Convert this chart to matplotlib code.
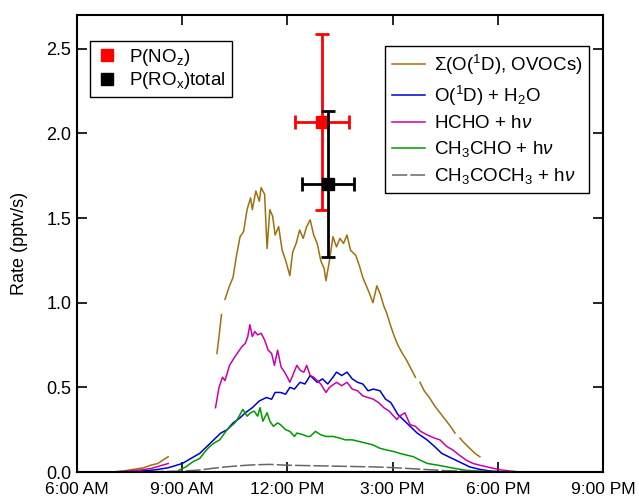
import numpy as np
import matplotlib
matplotlib.use("Agg")
import matplotlib.pyplot as plt
from matplotlib.lines import Line2D

plt.rcParams['font.family'] = ['Liberation Sans', 'DejaVu Sans']
plt.rcParams['mathtext.fontset'] = 'custom'
plt.rcParams['mathtext.rm'] = 'Liberation Sans'
plt.rcParams['mathtext.it'] = 'Liberation Sans:italic'
plt.rcParams['mathtext.bf'] = 'Liberation Sans:bold'

nan = np.nan

# ---- data (hours of day, rate in pptv/s) ----
sum_t = [7.0, 7.3, 7.6, 7.9, 8.1, 8.3, 8.45, 8.6, 8.7,
         9.99, 10.05, 10.12, 10.17,
         10.22, 10.35, 10.45, 10.55, 10.65, 10.75, 10.85, 10.95, 11.0, 11.1, 11.2, 11.25, 11.35,
         11.42, 11.5, 11.58, 11.65, 11.75, 11.85, 11.95, 12.07, 12.15, 12.25, 12.35, 12.45, 12.55,
         12.65, 12.75, 12.85, 12.95, 13.05, 13.1, 13.2, 13.3, 13.4, 13.5, 13.6, 13.7, 13.8, 13.95,
         14.05, 14.15, 14.25, 14.35, 14.44, 14.55, 14.65, 14.75, 14.83, 14.95, 15.05, 15.15, 15.28,
         15.4, 15.55, 15.65, 15.72,
         15.78, 15.9, 16.05, 16.2, 16.35, 16.5, 16.65, 16.78, 16.83,
         16.92, 17.05, 17.2, 17.35, 17.49]
sum_v = [0.0, 0.005, 0.015, 0.025, 0.04, 0.05, 0.07, 0.09, nan,
         0.70, 0.80, 0.93, nan,
         1.02, 1.10, 1.15, 1.28, 1.39, 1.42, 1.55, 1.62, 1.55, 1.66, 1.60, 1.68, 1.64,
         1.32, 1.55, 1.51, 1.40, 1.45, 1.31, 1.25, 1.16, 1.30, 1.35, 1.43, 1.38, 1.45,
         1.49, 1.40, 1.35, 1.25, 1.20, 1.13, 1.25, 1.39, 1.33, 1.38, 1.35, 1.40, 1.31, 1.28,
         1.22, 1.15, 1.10, 1.05, 1.00, 1.10, 1.05, 0.98, 0.94, 0.86, 0.80, 0.75, 0.70,
         0.66, 0.60, 0.56, nan,
         0.53, 0.48, 0.44, 0.39, 0.35, 0.31, 0.27, 0.23, nan,
         0.20, 0.17, 0.14, 0.11, 0.09]

o1d_t = [7.3, 7.8, 8.2, 8.6, 9.0, 9.25, 9.5, 9.75, 9.9, 10.1, 10.28, 10.45, 10.65, 10.8, 11.0,
         11.2, 11.4, 11.55, 11.65, 11.8, 11.95, 12.07, 12.2, 12.36, 12.5, 12.65, 12.85, 13.0,
         13.15, 13.3, 13.4, 13.55, 13.7, 13.85, 14.0, 14.15, 14.3, 14.45, 14.64, 14.8, 14.95,
         15.15, 15.3, 15.5, 15.7, 15.98, 16.2, 16.4, 16.7, 17.0, 17.2, 17.5, 17.78, 18.1, 18.3]
o1d_v = [0.0, 0.005, 0.012, 0.025, 0.05, 0.08, 0.11, 0.16, 0.19, 0.23, 0.25, 0.29, 0.32, 0.35, 0.38,
         0.42, 0.44, 0.43, 0.47, 0.47, 0.46, 0.50, 0.49, 0.53, 0.52, 0.57, 0.53, 0.55,
         0.52, 0.56, 0.59, 0.57, 0.59, 0.55, 0.53, 0.52, 0.48, 0.49, 0.48, 0.43, 0.41,
         0.34, 0.31, 0.27, 0.23, 0.19, 0.15, 0.11, 0.08, 0.05, 0.03, 0.015, 0.006, 0.002, 0.0]

hcho_t = [7.0, 7.4, 7.8, 8.1, 8.35, 8.6, 8.7,
          9.95, 10.05, 10.15, 10.22, 10.35, 10.5, 10.6, 10.7, 10.8, 10.87, 10.93, 11.0, 11.07,
          11.15, 11.25, 11.35, 11.45, 11.55, 11.63, 11.72, 11.82, 11.92, 12.0, 12.07, 12.17,
          12.27, 12.37, 12.47, 12.55, 12.65, 12.75, 12.85, 12.95, 13.1, 13.2, 13.4, 13.55, 13.7,
          13.85, 14.0, 14.15, 14.3, 14.45, 14.6, 14.75, 14.9, 15.12, 15.2, 15.35, 15.5, 15.65,
          15.8, 15.98, 16.2, 16.35, 16.55, 16.72, 16.9, 17.1, 17.3, 17.49, 17.8, 18.1, 18.4, 18.63]
hcho_v = [0.0, 0.005, 0.012, 0.02, 0.035, 0.05, nan,
          0.38, 0.50, 0.56, 0.54, 0.63, 0.68, 0.71, 0.74, 0.76, 0.80, 0.87, 0.80, 0.83,
          0.81, 0.82, 0.78, 0.72, 0.70, 0.63, 0.72, 0.62, 0.59, 0.56, 0.53, 0.58,
          0.63, 0.60, 0.59, 0.63, 0.57, 0.56, 0.54, 0.52, 0.47, 0.50, 0.53, 0.51, 0.53,
          0.49, 0.48, 0.45, 0.44, 0.43, 0.41, 0.38, 0.36, 0.31, 0.33, 0.35, 0.28, 0.27,
          0.24, 0.22, 0.20, 0.19, 0.15, 0.13, 0.10, 0.07, 0.05, 0.04, 0.025, 0.012, 0.005, 0.0]

ch3cho_t = [8.9, 9.1, 9.3, 9.5, 9.65, 9.78, 9.9, 10.07, 10.28, 10.5, 10.57, 10.73, 10.85, 10.95,
            11.05, 11.15, 11.22, 11.3, 11.42, 11.5, 11.6, 11.72, 11.8, 11.95, 12.07, 12.2, 12.27,
            12.45, 12.57, 12.65, 12.8, 12.95, 13.1, 13.3, 13.5, 13.65, 13.85, 14.05, 14.25, 14.44,
            14.64, 14.83, 15.05, 15.2, 15.4, 15.6, 15.78, 16.0, 16.3, 16.55, 16.8, 17.1, 17.5, 17.9]
ch3cho_v = [0.01, 0.03, 0.06, 0.08, 0.12, 0.15, 0.17, 0.19, 0.25, 0.29, 0.31, 0.37, 0.33, 0.35,
            0.36, 0.33, 0.38, 0.30, 0.35, 0.30, 0.27, 0.29, 0.28, 0.25, 0.24, 0.21, 0.23,
            0.22, 0.21, 0.21, 0.24, 0.22, 0.21, 0.21, 0.20, 0.19, 0.19, 0.18, 0.17, 0.16,
            0.14, 0.13, 0.12, 0.11, 0.10, 0.09, 0.07, 0.05, 0.04, 0.03, 0.02, 0.01, 0.005, 0.0]

acet_t = [7.0, 8.0, 9.0, 9.5, 10.0, 10.5, 11.0, 11.5, 12.0, 12.5, 13.0, 13.5, 14.0, 14.5, 15.0,
          15.5, 16.0, 16.5, 17.0, 17.5, 18.0, 18.8]
acet_v = [0.0, 0.002, 0.005, 0.012, 0.025, 0.035, 0.042, 0.045, 0.04, 0.038, 0.036, 0.034, 0.032,
          0.03, 0.026, 0.02, 0.014, 0.008, 0.005, 0.003, 0.001, 0.0]

pnoz_t, pnoz_v, pnoz_xerr, pnoz_yerr = 12.99, 2.07, 0.76, 0.52
prox_t, prox_v, prox_xerr, prox_yerr = 13.16, 1.70, 0.74, 0.43

xticks = [6, 9, 12, 15, 18, 21]
xticklabels = ['6:00 AM', '9:00 AM', '12:00 PM', '3:00 PM', '6:00 PM', '9:00 PM']
yticks = [0.0, 0.5, 1.0, 1.5, 2.0, 2.5]
yticklabels = ['0.0', '0.5', '1.0', '1.5', '2.0', '2.5']

fig = plt.figure(figsize=(6.39, 4.98), dpi=100)
ax = fig.add_axes([77/639, 26/498, 526/639, 457/498])

lw = 1.1
l1, = ax.plot(sum_t, sum_v, color='#A0700F', lw=lw, label='Σ(O($^1$D), OVOCs)')
l2, = ax.plot(o1d_t, o1d_v, color='#0000CC', lw=lw, label='O($^1$D) + H$_2$O')
l3, = ax.plot(hcho_t, hcho_v, color='#CC00AA', lw=lw, label='HCHO + h$\\nu$')
l4, = ax.plot(ch3cho_t, ch3cho_v, color='#009900', lw=lw, label='CH$_3$CHO + h$\\nu$')
l5, = ax.plot(acet_t, acet_v, color='#666666', lw=lw, dashes=(10, 2),
              label='CH$_3$COCH$_3$ + h$\\nu$')

ax.errorbar(pnoz_t, pnoz_v, xerr=pnoz_xerr, yerr=pnoz_yerr, fmt='s', color='#FF0000',
            ms=8, elinewidth=2, capsize=5, capthick=2, zorder=5)
ax.errorbar(prox_t, prox_v, xerr=prox_xerr, yerr=prox_yerr, fmt='s', color='black',
            ms=8, elinewidth=2, capsize=5, capthick=2, zorder=6)

ax.set_xlim(6, 21)
ax.set_ylim(0, 2.7)
ax.set_xticks(xticks)
ax.set_xticklabels(xticklabels)
ax.set_yticks(yticks)
ax.set_yticklabels(yticklabels)
ax.tick_params(direction='in', length=7, width=1.2, labelsize=13,
               top=True, right=True, labeltop=False, labelright=False)
ax.tick_params(axis='x', pad=7, labelsize=12.5)
ax.tick_params(axis='y', pad=4)
for s in ax.spines.values():
    s.set_linewidth(1.5)
ax.set_ylabel('Rate (pptv/s)', fontsize=13, labelpad=13)

h1 = Line2D([], [], marker='s', ls='none', color='#FF0000', ms=9)
h2 = Line2D([], [], marker='s', ls='none', color='black', ms=9)
leg1 = ax.legend([h1, h2], ['P(NO$_\\mathrm{z}$)', 'P(RO$_\\mathrm{x}$)total'], loc='upper left',
                 bbox_to_anchor=(13/526, (472-41)/457), borderaxespad=0, fontsize=13.5,
                 fancybox=False, framealpha=1, edgecolor='black', handlelength=1.2,
                 handletextpad=0.6, labelspacing=0.15, borderpad=0.3)
leg1.get_frame().set_linewidth(1.0)
ax.add_artist(leg1)
leg2 = ax.legend([l1, l2, l3, l4, l5], [l.get_label() for l in [l1, l2, l3, l4, l5]],
                 loc='upper right', bbox_to_anchor=(512/526, (472-46)/457), borderaxespad=0,
                 fontsize=13.5, fancybox=False, framealpha=1, edgecolor='black',
                 handlelength=1.8, handletextpad=0.45, labelspacing=0.38, borderpad=0.35)
leg2.get_frame().set_linewidth(1.0)

fig.savefig('out.png', dpi=100)
